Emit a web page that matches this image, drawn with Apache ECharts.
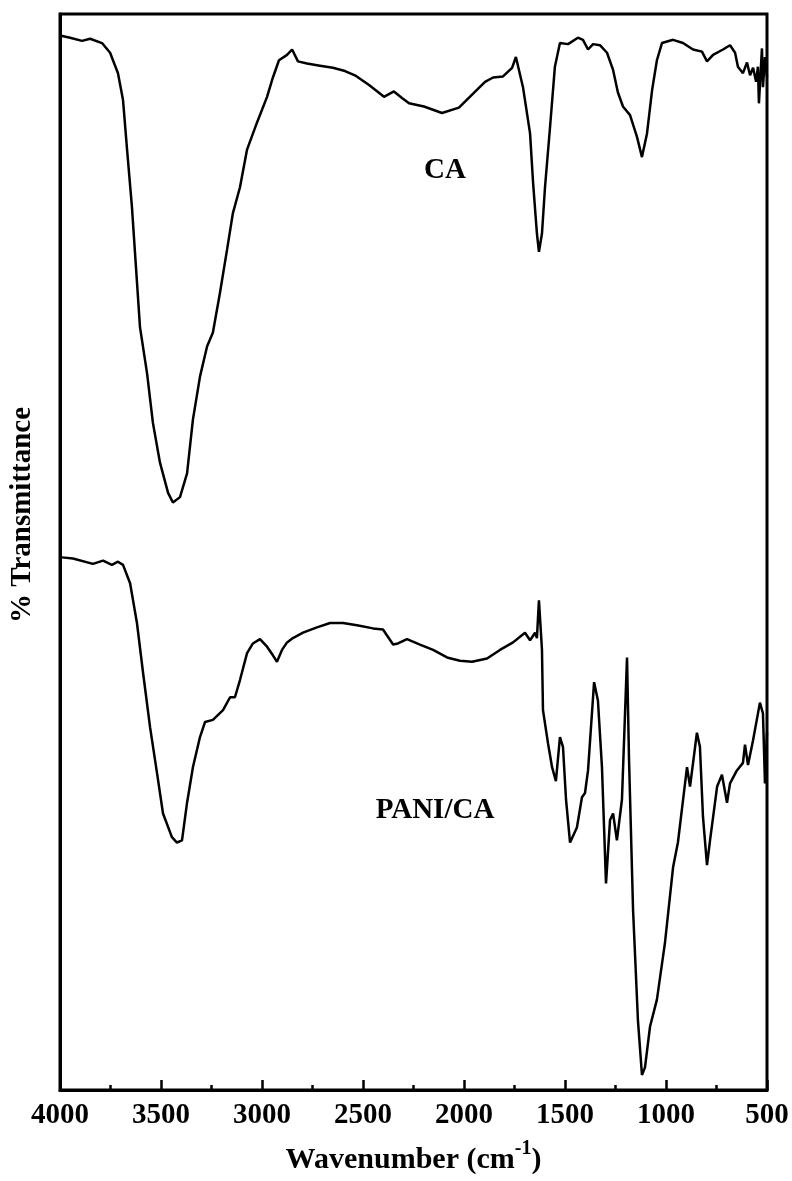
<!DOCTYPE html>
<html>
<head>
<meta charset="utf-8">
<script src="https://cdn.jsdelivr.net/npm/echarts@6/dist/echarts.min.js"></script>
<style>
html,body{margin:0;padding:0;background:#fff;}
#chart{width:792px;height:1181px;}
</style>
</head>
<body>
<div id="chart"></div>
<script>
// Wavenumbers (cm-1) and % transmittance (arbitrary offset units)
const caWavenumber = [4000,3950,3891,3851,3792,3752,3713,3688,3668,3644,3624,3604,3569,3540,3505,3465,3441,3406,3371,3342,3307,3272,3243,3208,3173,3144,3109,3074,3025,2975,2946,2916,2876,2851,2822,2777,2713,2649,2589,2540,2470,2396,2347,2307,2272,2198,2109,2025,1950,1896,1856,1807,1762,1743,1708,1673,1658,1639,1629,1614,1599,1574,1550,1525,1485,1436,1411,1386,1361,1327,1292,1262,1238,1213,1178,1144,1119,1094,1069,1045,1020,965,916,866,822,797,767,718,683,658,644,619,599,584,569,554,545,540,525,520,510,500];
const caTransmittance = [98.0,97.8,97.5,97.7,97.3,96.4,94.5,92.0,87.4,82.1,76.5,70.9,66.6,62.0,58.3,55.5,54.6,55.1,57.3,62.3,66.3,69.1,70.4,74.1,78.1,81.5,83.9,87.4,89.9,92.3,94.1,95.7,96.2,96.7,95.6,95.4,95.2,95.0,94.7,94.3,93.4,92.3,92.8,92.2,91.7,91.4,90.8,91.3,92.7,93.7,94.1,94.2,95.0,96.0,93.2,88.9,84.3,79.6,77.9,79.6,83.9,89.5,95.1,97.3,97.2,97.8,97.6,96.7,97.2,97.1,96.4,94.8,92.7,91.4,90.6,88.6,86.7,88.9,92.9,95.7,97.3,97.6,97.3,96.7,96.5,95.6,96.2,96.7,97.1,96.4,95.1,94.5,95.5,94.3,95.0,93.7,95.1,91.7,96.8,93.2,96.0,94.1];

const paniWavenumber = [3990,3936,3837,3787,3743,3713,3688,3653,3619,3589,3554,3520,3490,3446,3421,3396,3371,3342,3307,3282,3243,3193,3158,3134,3109,3074,3045,3010,2975,2946,2926,2901,2876,2847,2797,2728,2663,2599,2530,2450,2401,2376,2351,2327,2282,2218,2153,2084,2020,1960,1886,1822,1757,1698,1673,1648,1639,1629,1614,1609,1584,1564,1545,1525,1510,1495,1475,1441,1416,1401,1386,1356,1337,1317,1297,1277,1262,1243,1218,1193,1183,1163,1139,1119,1104,1079,1045,1005,965,941,896,881,847,832,817,797,782,747,723,698,683,649,619,609,594,569,535,520,510,500];
const paniTransmittance = [49.5,49.4,48.9,49.2,48.8,49.1,48.8,47.1,43.4,38.8,33.7,29.5,25.7,23.5,23.0,23.2,26.7,30.0,32.8,34.2,34.4,35.3,36.5,36.5,38.1,40.6,41.5,41.9,41.2,40.4,39.8,40.9,41.6,42.0,42.5,43.0,43.4,43.4,43.2,42.9,42.8,42.1,41.4,41.5,41.9,41.4,40.9,40.2,39.9,39.8,40.1,40.9,41.6,42.5,41.8,42.5,42.0,45.5,40.9,35.3,32.2,30.0,28.7,32.8,31.9,27.0,23.0,24.4,27.2,27.6,29.7,37.9,36.2,30.0,19.2,25.1,25.7,23.2,27.0,40.2,30.7,16.7,6.5,1.4,2.1,5.9,8.4,13.7,20.7,23.0,30.0,28.2,33.2,31.9,25.4,20.9,23.2,28.2,29.3,26.7,28.5,29.7,30.4,32.1,30.2,32.5,36.0,35.0,28.5,33.2];

const xTickValues = [4000,3500,3000,2500,2000,1500,1000,500];
const seriesNames = ['CA','PANI/CA'];
const xTitle = 'Wavenumber (cm';
const xTitleSup = '-1';
const yTitle = '% Transmittance';

const FONT = '"Liberation Serif","Times New Roman",serif';
const zip = (a,b) => a.map((v,i) => [v,b[i]]);

const chart = echarts.init(document.getElementById('chart'), null, {renderer:'canvas'});
chart.setOption({
  animation:false,
  backgroundColor:'#fff',
  grid:{left:60,right:25,top:14,bottom:91,show:true,borderColor:'#000',borderWidth:3,backgroundColor:'transparent'},
  xAxis:{
    type:'value', inverse:true, min:500, max:4000, interval:500,
    axisLine:{show:true,lineStyle:{color:'#000',width:3}},
    axisTick:{show:true,inside:true,length:10,lineStyle:{color:'#000',width:2.5}},
    minorTick:{show:true,splitNumber:2,length:5,lineStyle:{color:'#000',width:2.5}},
    splitLine:{show:false},
    axisLabel:{color:'#000',fontFamily:FONT,fontWeight:'bold',fontSize:29,margin:11,
      showMinLabel:true,showMaxLabel:true,
      formatter:v => xTickValues.includes(v) ? String(v) : ''},
    name:'{t|'+xTitle+'}{s|'+xTitleSup+'}{t|)}',
    nameLocation:'middle', nameGap:49,
    nameTextStyle:{rich:{
      t:{fontFamily:FONT,fontWeight:'bold',fontSize:30,color:'#000',lineHeight:36,verticalAlign:'bottom'},
      s:{fontFamily:FONT,fontWeight:'bold',fontSize:20,color:'#000',lineHeight:36,verticalAlign:'top'}
    }}
  },
  yAxis:{
    type:'value', min:0, max:100,
    axisLine:{show:true,lineStyle:{color:'#000',width:3}},
    axisTick:{show:false}, axisLabel:{show:false}, splitLine:{show:false}
  },
  series:[
    {name:seriesNames[0],type:'line',data:zip(caWavenumber,caTransmittance),showSymbol:false,
     lineStyle:{color:'#000',width:2.5},itemStyle:{color:'#000'}},
    {name:seriesNames[1],type:'line',data:zip(paniWavenumber,paniTransmittance),showSymbol:false,
     lineStyle:{color:'#000',width:2.5},itemStyle:{color:'#000'}}
  ],
  graphic:[
    {type:'text',x:23,y:515,rotation:Math.PI/2,
     style:{text:yTitle,font:'bold 29px '+FONT,fill:'#000',align:'center',verticalAlign:'middle',textAlign:'center',textVerticalAlign:'middle'}},
    {type:'text',x:445,y:171,
     style:{text:seriesNames[0],font:'bold 29px '+FONT,fill:'#000',align:'center',verticalAlign:'middle',textAlign:'center',textVerticalAlign:'middle'}},
    {type:'text',x:435,y:811,
     style:{text:seriesNames[1],font:'bold 29px '+FONT,fill:'#000',align:'center',verticalAlign:'middle',textAlign:'center',textVerticalAlign:'middle'}}
  ]
});
</script>
</body>
</html>
